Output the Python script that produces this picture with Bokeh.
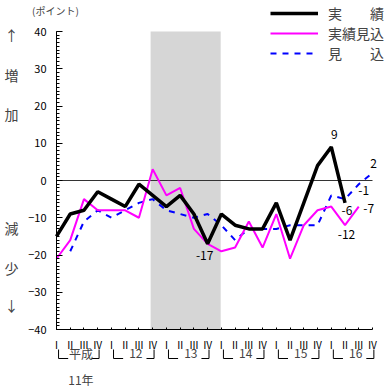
import numpy as np
from bokeh.plotting import figure
from bokeh.models import (Range1d, LinearAxis, FixedTicker, SingleIntervalTicker,
                          BoxAnnotation, Label, Legend, LegendItem)
from bokeh.embed import file_html
from bokeh.resources import INLINE

# ---------------- data ----------------
quarter_labels = ["Ⅰ", "Ⅱ", "Ⅲ", "Ⅳ"] * 6
year_labels = ["平成", "12", "13", "14", "15", "16"]
first_year_suffix = "11年"
series_names = ["実　　績", "実績見込", "見　　込"]
unit_label = "(ポイント)"
side_up = ["↑", "増", "加"]
side_down = ["減", "少", "↓"]

actual = [-15, -9, -8, -3, -5, -7, -1, -4, -7, -4, -9, -17, -9, -12, -13, -13,
          -6, -16, -6, 4, 9, -6]
estimate = [-21, -16, -5, -8, -8, -8, -10, 3, -4, -2, -13, -17, -19, -18, -11, -18,
            -9, -21, -12, -8, -7, -12, -7]
forecast_start = 1
forecast = [-19, -11, -8, -10, -8, -6, -5, -8, -9, -10, -9, -12, -16, -13, -13,
            -13, -12, -12, -12, -4, -5, -1, 2]
recession = [6.85, 11.95]
y_min, y_max, y_step = -40, 40, 10

FONT = "Noto Sans CJK JP"
W = H = 388
NQ = len(quarter_labels) - 1

# plot-area placement on the canvas (pixels)
X0, X1, Y0, Y1 = 56, 372, 31, 329
SX = (X1 - X0) / NQ
SY = (Y1 - Y0) / (y_max - y_min)


def dx(px):
    return (px - X0) / SX


def dy(py):
    return y_max - (py - Y0) / SY


p = figure(width=W, height=H, output_backend="svg", toolbar_location=None,
           x_range=Range1d(dx(0), dx(W)), y_range=Range1d(dy(H), dy(0)),
           min_border=0, x_axis_type=None, y_axis_type=None)
p.outline_line_color = None
p.background_fill_color = "white"
p.border_fill_color = "white"

# axes (library axes, pinned to the plot area)
yaxis = LinearAxis(ticker=SingleIntervalTicker(interval=y_step, num_minor_ticks=10),
                   fixed_location=0, bounds=(y_min, y_max))
yaxis.major_tick_in = 6
yaxis.major_tick_out = 0
yaxis.minor_tick_in = 3
yaxis.minor_tick_out = 0
yaxis.major_label_standoff = 10
yaxis.major_label_text_font = FONT
yaxis.major_label_text_font_size = "11px"
yaxis.major_label_text_color = "black"
yaxis.axis_line_color = "black"
yaxis.major_tick_line_color = "black"
yaxis.minor_tick_line_color = "black"
p.add_layout(yaxis, "left")

xaxis = LinearAxis(ticker=FixedTicker(ticks=list(range(len(quarter_labels)))),
                   major_label_overrides={i: t for i, t in enumerate(quarter_labels)},
                   fixed_location=y_min, bounds=(0, NQ))
xaxis.major_tick_in = 2
xaxis.major_tick_out = 0
xaxis.minor_tick_line_color = None
xaxis.major_label_standoff = 7
xaxis.major_label_text_font = FONT
xaxis.major_label_text_font_size = "10px"
xaxis.major_label_text_color = "black"
xaxis.axis_line_color = "black"
p.add_layout(xaxis, "below")

# shaded period
p.add_layout(BoxAnnotation(left=recession[0], right=recession[1], bottom=y_min, top=y_max,
                           fill_color="#d6d6d6", fill_alpha=1, line_color=None,
                           level="underlay"))
# zero line
p.segment(x0=[0], x1=[NQ], y0=[0], y1=[0], line_color="#333333", line_width=1)

# series lines
r_fc = p.line(list(range(forecast_start, forecast_start + len(forecast))), forecast,
              line_color="#0000ff", line_width=2, line_dash="6 6")
r_est = p.line(list(range(len(estimate))), estimate, line_color="#ff00ff", line_width=2)
r_act = p.line(list(range(len(actual))), actual, line_color="black", line_width=3.5)

legend = Legend(items=[LegendItem(label=series_names[0], renderers=[r_act]),
                       LegendItem(label=series_names[1], renderers=[r_est]),
                       LegendItem(label=series_names[2], renderers=[r_fc])],
                location=(270, 325))
legend.padding = 0
legend.margin = 0
legend.spacing = -5
legend.glyph_width = 48
legend.glyph_height = 16
legend.label_height = 16
legend.label_standoff = 10
legend.label_text_font = FONT
legend.label_text_font_size = "14px"
legend.border_line_color = None
legend.background_fill_alpha = 0
p.add_layout(legend)


# value annotations
def val_label(series, start, idx, xo, yo):
    v = series[idx - start]
    p.add_layout(Label(x=idx, y=v, text=str(v), x_offset=xo, y_offset=yo,
                       text_align="center", text_baseline="middle",
                       text_font=FONT, text_font_size="12px", text_color="black"))


val_label(actual, 0, 20, 3, 12)
val_label(actual, 0, 11, -3, -12)
val_label(actual, 0, 21, 2, -8)
val_label(estimate, 0, 21, 1.5, -9.5)
val_label(estimate, 0, 22, 10, -1.5)
val_label(forecast, forecast_start, 22, 5, -6)
val_label(forecast, forecast_start, 23, 1, 10)

# unit label and side text
p.add_layout(Label(x=dx(55), y=dy(10), text=unit_label, text_align="center",
                   text_baseline="middle", text_font=FONT, text_font_size="10px"))
for t, py in zip(side_up, [34, 74, 113]):
    p.add_layout(Label(x=dx(11), y=dy(py), text=t, text_align="center",
                       text_baseline="middle", text_font=FONT, text_font_size="14px"))
for t, py in zip(side_down, [227, 267, 304]):
    p.add_layout(Label(x=dx(11), y=dy(py), text=t, text_align="center",
                       text_baseline="middle", text_font=FONT, text_font_size="14px"))

# year brackets
yt, yb = dy(349), dy(358)
bx, by = [], []
for g, lab in enumerate(year_labels):
    left = 4 * g + 0.15
    right = 4 * g + 3 + 0.1
    bx += [[left, left, left + 0.7], [right - 0.55, right, right]]
    by += [[yt, yb, yb], [yb, yb, yt]]
    p.add_layout(Label(x=(left + right) / 2 + 0.15, y=dy(353), text=lab,
                       text_align="center", text_baseline="middle",
                       text_font=FONT, text_font_size="12px"))
p.multi_line(bx, by, line_color="black", line_width=1)
p.add_layout(Label(x=(0.15 + 3.1) / 2 + 0.15, y=dy(379), text=first_year_suffix,
                   text_align="center", text_baseline="middle",
                   text_font=FONT, text_font_size="12px"))

open("out.html", "w").write(file_html(p, INLINE))
